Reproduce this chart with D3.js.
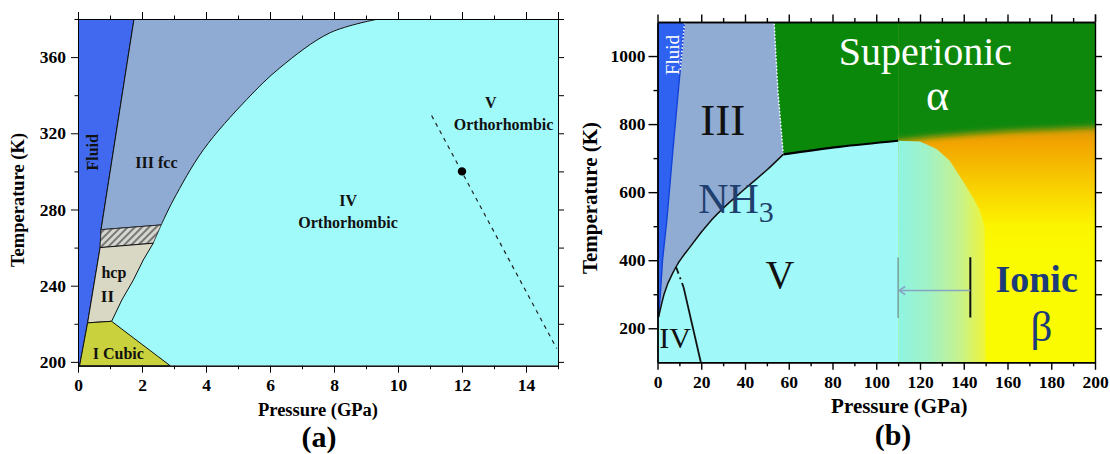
<!DOCTYPE html>
<html>
<head>
<meta charset="utf-8">
<script src="https://cdn.jsdelivr.net/npm/d3@7"></script>
<style>
body{margin:0;background:#fff}
svg text{font-family:"Liberation Serif","Times New Roman",serif}
</style>
</head>
<body>
<svg id="chart" width="1110" height="454"></svg>
<script>
// ---- panel (a): 0-15 GPa ----
var aPressMajor = [0,2,4,6,8,10,12,14];
var aPressMinor = [1,3,5,7,9,11,13,15];
var aTempMajor = [200,240,280,320,360];
var aTempMinor = [220,260,300,340,380];
var aTempRight = [200,220,240,260,280,300,320,340,360,380];

// phase boundaries, [pressure GPa, temperature K]
var aFluidLine = [[0.05,198],[0.3,220.5],[0.69,260],[0.72,269.4],[1.75,380]];
var aCubic = [[0.05,198],[0.3,220.5],[1.05,221.3],[2.88,198]];
var aIIBound = [[1.05,221.3],[1.37,232.5],[1.73,243],[2.04,253.5],[2.35,262.3]];
var aHatch = [[0.69,260],[0.72,269.4],[2.6,271.9],[2.35,262.3]];
var aIIIBound = [[2.6,271.9],[2.98,285],[3.92,311.4],[5.27,337.7],[6.31,354.4],[7.88,372.8],[9.39,380]];
var aDashed = [[11.05,329.3],[14.96,207]];
var aDot = [12,300];
var aLabels = [
  {t:"III fcc", p:2.45, T:302, size:16},
  {t:"hcp", p:1.12, T:244, size:16},
  {t:"II", p:0.92, T:231.5, size:17},
  {t:"I Cubic", p:1.26, T:201.5, size:16},
  {t:"IV", p:8.44, T:281.8, size:16},
  {t:"Orthorhombic", p:8.44, T:270.1, size:16},
  {t:"V", p:12.9, T:333.5, size:16},
  {t:"Orthorhombic", p:13.3, T:321.5, size:16}
];

// ---- panel (b): 0-200 GPa ----
var bPressMajor = [0,20,40,60,80,100,120,140,160,180,200];
var bPressMinor = [10,30,50,70,90,110,130,150,170,190];
var bTempMajor = [200,400,600,800,1000];
var bTempMinor = [300,500,700,900];
var bTempRight = [200,300,400,500,600,700,800,900,1000];

var bFluidLine = [[0.5,233],[1.3,300],[2.3,400],[4.3,520],[7,720],[10.4,960],[12.4,1100]];
var bIIICurve = [[0.5,233],[3,300],[8,375],[15,440],[25,520],[40,610],[50,665],[57.5,711]];
var bSuperLeft = [[57.5,711],[55,900],[53.3,1100]];
var bSuperLine = [[57.5,711],[83,733],[110,751]];
var bIonicEdge = [[110,751],[125,762],[140,770],[160,779],[200,790],[215,793]];
var bMint = [[110,751],[120,749],[127.6,727],[133.6,692],[139.6,633],[144.2,584],[147.4,546],[149.6,497],[150,100],[110,100]];
var bIVLineDash = [[8.5,380],[11.9,321]];
var bIVLineSolid = [[11.9,321],[19.8,100]];
var bBarP = 143, bDotP = 110, bBarT = [232,409], bArrowT = 311;

var svg = d3.select("#chart");
var defs = svg.append("defs");
var serif = "Liberation Serif, Times New Roman, serif";

var xA = d3.scaleLinear().domain([0,15]).range([78,558]);
var yA = d3.scaleLinear().domain([198,380]).range([365.7,19]);
var xB = d3.scaleLinear().domain([0,200]).range([657.5,1095]);
var yB = d3.scaleLinear().domain([100,1100]).range([362.3,22]);

function lin(x,y){ return d3.line().x(function(d){return x(d[0]);}).y(function(d){return y(d[1]);}); }
function smooth(x,y){ return lin(x,y).curve(d3.curveMonotoneX); }
function spline(x,y){ return lin(x,y).curve(d3.curveCatmullRom.alpha(0.5)); }
function pt(x,y,d){ return x(d[0])+","+y(d[1]); }

// hatch pattern
var pat = defs.append("pattern").attr("id","hatch").attr("patternUnits","userSpaceOnUse")
  .attr("width",5).attr("height",5).attr("patternTransform","rotate(45)");
pat.append("rect").attr("width",5).attr("height",5).attr("fill","#d6d6d0");
pat.append("line").attr("x1",1).attr("y1",0).attr("x2",1).attr("y2",5).attr("stroke","#444").attr("stroke-width",1.3);

// clip paths
defs.append("clipPath").attr("id","clipA").append("rect")
  .attr("x",xA(0)).attr("y",yA(380)).attr("width",xA(15)-xA(0)).attr("height",yA(198)-yA(380));
defs.append("clipPath").attr("id","clipB").append("rect")
  .attr("x",xB(0)).attr("y",yB(1100)).attr("width",xB(200)-xB(0)).attr("height",yB(100)-yB(1100));
defs.append("clipPath").attr("id","clipIon").append("rect")
  .attr("x",xB(110)).attr("y",yB(1100)).attr("width",xB(200)-xB(110)).attr("height",yB(100)-yB(1100));

// gradients for ionic region
var ig = defs.append("linearGradient").attr("id","ionGrad").attr("gradientUnits","userSpaceOnUse")
  .attr("x1",0).attr("x2",0).attr("y1",yB(790)).attr("y2",yB(430));
[[0,"#d89a08"],[0.12,"#f2a300"],[0.45,"#f8cc00"],[0.8,"#fcf400"],[1,"#fafa00"]].forEach(function(s){
  ig.append("stop").attr("offset",s[0]).attr("stop-color",s[1]);
});
var mg = defs.append("linearGradient").attr("id","mintGrad").attr("gradientUnits","userSpaceOnUse")
  .attr("x1",xB(110)).attr("x2",xB(151)).attr("y1",0).attr("y2",0);
[[0,"#8ef4e2"],[0.35,"#a2f2c4"],[0.7,"#c8f28a"],[1,"#f2f530"]].forEach(function(s){
  mg.append("stop").attr("offset",s[0]).attr("stop-color",s[1]);
});
defs.append("filter").attr("id","soft").attr("x","-20%").attr("y","-20%").attr("width","140%").attr("height","140%")
  .append("feGaussianBlur").attr("stdDeviation",3);

// ================= panel (a) =================
var gA = svg.append("g").attr("clip-path","url(#clipA)");
gA.append("rect").attr("x",xA(0)).attr("y",yA(380)).attr("width",xA(15)-xA(0)).attr("height",yA(198)-yA(380)).attr("fill","#a0fafa");

var lineA = lin(xA,yA);
// fluid
gA.append("path").attr("d", lineA([[0,198]].concat(aFluidLine,[[0,380]])) + "Z")
  .attr("fill","#4169ef").attr("stroke","#111").attr("stroke-width",1);
// III fcc
gA.append("path").attr("d", spline(xA,yA)(aIIIBound) + "L" + pt(xA,yA,[1.75,380]) + "L" + pt(xA,yA,[0.72,269.4]) + "Z")
  .attr("fill","#8fabd3").attr("stroke","#111").attr("stroke-width",1);
// hatched band
gA.append("path").attr("d", lineA(aHatch)+"Z").attr("fill","url(#hatch)").attr("stroke","#222").attr("stroke-width",0.8);
// II hcp
gA.append("path").attr("d", lineA([[0.3,220.5],[0.69,260]].concat(aIIBound.slice().reverse())) + "Z")
  .attr("fill","#d9d8c4").attr("stroke","#111").attr("stroke-width",1);
// I cubic
gA.append("path").attr("d", lineA(aCubic)+"Z").attr("fill","#c9d23c").attr("stroke","#111").attr("stroke-width",1);
// dashed boundary + point
gA.append("path").attr("d", lineA(aDashed)).attr("fill","none").attr("stroke","#222").attr("stroke-width",1.2).attr("stroke-dasharray","4,4.5");
gA.append("circle").attr("cx",xA(aDot[0])).attr("cy",yA(aDot[1])).attr("r",4.2).attr("fill","#000");

gA.selectAll("text.lab").data(aLabels).enter().append("text")
  .attr("x",function(d){return xA(d.p);}).attr("y",function(d){return yA(d.T);})
  .attr("text-anchor","middle").attr("font-weight","bold").attr("font-size",function(d){return d.size;})
  .attr("fill","#111").text(function(d){return d.t;});
gA.append("text").attr("transform","translate("+(xA(0.62))+","+yA(310)+") rotate(-90)")
  .attr("text-anchor","middle").attr("font-weight","bold").attr("font-size",16).attr("fill","#111").text("Fluid");

// ================= panel (b) =================
var gB = svg.append("g").attr("clip-path","url(#clipB)");
var lineB = lin(xB,yB);
gB.append("rect").attr("x",xB(0)).attr("y",yB(1100)).attr("width",xB(200)-xB(0)).attr("height",yB(100)-yB(1100)).attr("fill","#a0f8f8");

// ionic column with soft green edge
var gIon = gB.append("g").attr("clip-path","url(#clipIon)");
gIon.append("rect").attr("x",xB(110)).attr("y",yB(1100)).attr("width",xB(200)-xB(110)).attr("height",yB(100)-yB(1100)).attr("fill","url(#ionGrad)");
gIon.append("path").attr("d", lineB([[100,1250],[215,1250]].concat(bIonicEdge.slice().reverse(),[[100,745]]))+"Z")
  .attr("fill","#0a880a").attr("filter","url(#soft)");
gIon.append("path").attr("d", lineB(bMint)+"Z").attr("fill","url(#mintGrad)");

// superionic (sharp part)
gB.append("path").attr("d", lineB([[53.3,1100],[110,1100]].concat(bSuperLine.slice().reverse(),[[55,900]]))+"Z")
  .attr("fill","#0a880a");
// III
var fl = bFluidLine.slice().reverse();
gB.append("path").attr("d", smooth(xB,yB)(bIIICurve) + "L" + pt(xB,yB,bSuperLeft[1]) + "L" + pt(xB,yB,bSuperLeft[2]) +
    fl.map(function(d){return "L"+pt(xB,yB,d);}).join("") + "Z")
  .attr("fill","#91acd3");
// fluid
gB.append("path").attr("d", lineB([[0,233]].concat(bFluidLine,[[0,1100]]))+"Z").attr("fill","#2f62f0");
gB.append("path").attr("d", lineB(bFluidLine)).attr("fill","none").attr("stroke","#1442d8").attr("stroke-width",1.4);
gB.append("path").attr("d", lineB(bFluidLine.slice(5))).attr("fill","none").attr("stroke","#fff").attr("stroke-width",1.6).attr("stroke-dasharray","1.5,2");
gB.append("path").attr("d", lineB(bSuperLeft)).attr("fill","none").attr("stroke","#fff").attr("stroke-width",1.5).attr("stroke-dasharray","1.5,2");
// boundaries
gB.append("path").attr("d", smooth(xB,yB)(bIIICurve)).attr("fill","none").attr("stroke","#111").attr("stroke-width",1.5);
gB.append("path").attr("d", smooth(xB,yB)(bSuperLine)).attr("fill","none").attr("stroke","#000").attr("stroke-width",2.2);
gB.append("path").attr("d", lineB(bIVLineDash)).attr("fill","none").attr("stroke","#111").attr("stroke-width",1.8).attr("stroke-dasharray","7,4,2,4");
gB.append("path").attr("d", lineB(bIVLineSolid)).attr("fill","none").attr("stroke","#111").attr("stroke-width",1.8);
// bar, dotted bar, arrow
gB.append("line").attr("x1",xB(bBarP)).attr("x2",xB(bBarP)).attr("y1",yB(bBarT[0])).attr("y2",yB(bBarT[1]))
  .attr("stroke","#111").attr("stroke-width",2);
gB.append("line").attr("x1",xB(bDotP)).attr("x2",xB(bDotP)).attr("y1",yB(bBarT[0])).attr("y2",yB(bBarT[1]))
  .attr("stroke","#556").attr("stroke-width",1.6).attr("stroke-dasharray","1,1");
gB.append("line").attr("x1",xB(bBarP)).attr("x2",xB(bDotP)+1).attr("y1",yB(bArrowT)).attr("y2",yB(bArrowT))
  .attr("stroke","#86a4c4").attr("stroke-width",1.6);
gB.append("path").attr("d","M"+(xB(bDotP)+7)+","+(yB(bArrowT)-4)+"L"+(xB(bDotP)+1)+","+yB(bArrowT)+"L"+(xB(bDotP)+7)+","+(yB(bArrowT)+4))
  .attr("fill","none").attr("stroke","#86a4c4").attr("stroke-width",1.6);

// texts (b)
gB.append("text").attr("x",xB(19.5)).attr("y",yB(768)).attr("font-size",45).attr("fill","#111").text("III");
var nh = gB.append("text").attr("x",xB(18.6)).attr("y",yB(540)).attr("font-size",42).attr("fill","#1f3f6e").text("NH");
nh.append("tspan").attr("font-size",30).attr("dy",9).text("3");
gB.append("text").attr("x",xB(122.5)).attr("y",yB(973)).attr("text-anchor","middle").attr("font-size",40).attr("fill","#fff").text("Superionic");
gB.append("text").attr("x",xB(128)).attr("y",yB(841)).attr("text-anchor","middle").attr("font-size",44).attr("fill","#fff").text("α");
gB.append("text").attr("x",xB(173.3)).attr("y",yB(307)).attr("text-anchor","middle").attr("font-size",38).attr("font-weight","bold").attr("fill","#1b3c78").text("Ionic");
gB.append("text").attr("x",xB(175.5)).attr("y",yB(164)).attr("text-anchor","middle").attr("font-size",43).attr("fill","#1b3c78").text("β");
gB.append("text").attr("x",xB(56)).attr("y",yB(317)).attr("text-anchor","middle").attr("font-size",40)
  .attr("font-family","Liberation Sans, Arial, sans-serif").attr("fill","#111").text("V");
gB.append("text").attr("x",xB(8)).attr("y",yB(142)).attr("text-anchor","middle").attr("font-size",30)
  .attr("font-family","Liberation Sans, Arial, sans-serif").attr("fill","#111").text("IV");
gB.append("text").attr("transform","translate("+xB(10)+","+yB(1003)+") rotate(-90)").attr("text-anchor","middle")
  .attr("font-size",19).attr("font-family","DejaVu Sans, sans-serif").attr("fill","#fff").text("Fluid");

// ================= axes =================
function axes(x, y, c){
  var g = svg.append("g");
  var x0 = x.range()[0], x1 = x.range()[1], y0 = y.range()[0], y1 = y.range()[1];
  function add(gen, tr, labels){
    var a = g.append("g").attr("transform",tr).call(gen);
    a.attr("font-family",serif).attr("font-size",c.font).attr("font-weight","bold").attr("fill","#000");
    a.selectAll("path,line").attr("stroke","#000").attr("stroke-width",c.sw);
    if(!labels) a.selectAll("text").remove();
    return a;
  }
  add(d3.axisBottom(x).tickValues(c.xMajor).tickSize(c.major).tickSizeOuter(0).tickPadding(c.xPad).tickFormat(d3.format("d")), "translate(0,"+y0+")", true);
  add(d3.axisBottom(x).tickValues(c.xMinor).tickSize(c.minor).tickSizeOuter(0), "translate(0,"+y0+")", false);
  add(d3.axisTop(x).tickValues(c.xMajor.concat([x.domain()[1]])).tickSize(c.major).tickSizeOuter(0), "translate(0,"+y1+")", false);
  add(d3.axisTop(x).tickValues(c.xMinor).tickSize(c.minor).tickSizeOuter(0), "translate(0,"+y1+")", false);
  add(d3.axisLeft(y).tickValues(c.yMajor).tickSize(c.yMajorLen).tickSizeOuter(0).tickPadding(c.yPad).tickFormat(d3.format("d")), "translate("+x0+",0)", true);
  add(d3.axisLeft(y).tickValues(c.yMinor).tickSize(c.minor).tickSizeOuter(0), "translate("+x0+",0)", false);
  add(d3.axisRight(y).tickValues(c.yRight).tickSize(c.rightLen).tickSizeOuter(0), "translate("+x1+",0)", false);
  g.append("text").attr("x",(x0+x1)/2+c.xLabDx).attr("y",c.xLabY).attr("text-anchor","middle")
    .attr("font-family",serif).attr("font-weight","bold").attr("font-size",c.labFont).text("Pressure (GPa)");
  g.append("text").attr("transform","translate("+c.yLabX+","+c.yLabY+") rotate(-90)").attr("text-anchor","middle")
    .attr("font-family",serif).attr("font-weight","bold").attr("font-size",c.labFont).text("Temperature (K)");
  g.append("text").attr("x",c.tagX).attr("y",c.tagY).attr("text-anchor","middle")
    .attr("font-family",serif).attr("font-weight","bold").attr("font-size",30).text(c.tag);
}

axes(xA, yA, {xMajor:aPressMajor, xMinor:aPressMinor, yMajor:aTempMajor, yMinor:aTempMinor, yRight:aTempRight,
  major:7, minor:3.5, yMajorLen:7, rightLen:6, sw:1, font:17.5, xPad:6, yPad:5, labFont:18.5,
  xLabDx:0, xLabY:416, yLabX:24, yLabY:200, tag:"(a)", tagX:319, tagY:447});
axes(xB, yB, {xMajor:bPressMajor, xMinor:bPressMinor, yMajor:bTempMajor, yMinor:bTempMinor, yRight:bTempRight,
  major:7.5, minor:4, yMajorLen:9, rightLen:7, sw:1.4, font:17.5, xPad:6, yPad:3, labFont:21,
  xLabDx:23, xLabY:413, yLabX:597, yLabY:198, tag:"(b)", tagX:893, tagY:445});
</script>
</body>
</html>
